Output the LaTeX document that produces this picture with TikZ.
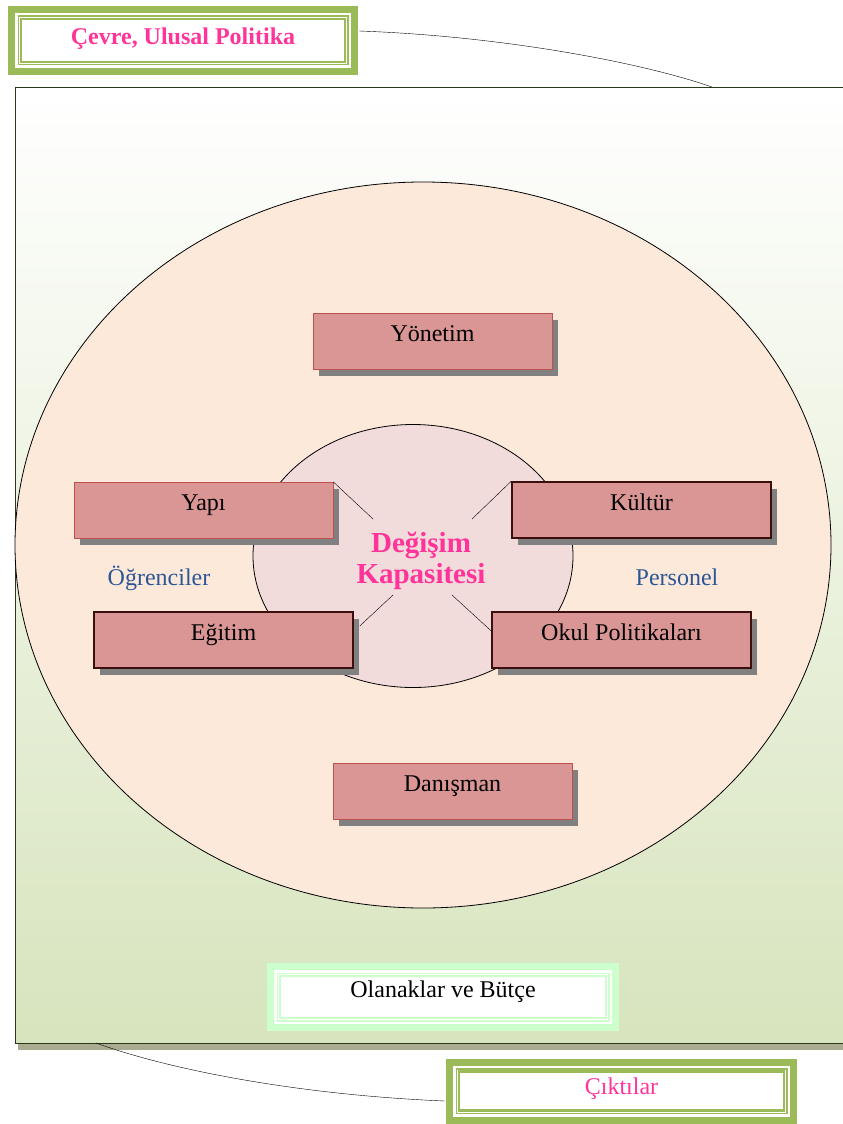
\documentclass[tikz,border=0pt]{standalone}
\usepackage{fontspec}
\setmainfont{Liberation Serif}
\usetikzlibrary{shapes.geometric,shadows}
\definecolor{frgreen}{HTML}{9BBB59}
\definecolor{lgreen}{HTML}{CCFFCC}
\definecolor{bggreen}{HTML}{D7E4BD}
\definecolor{rectedge}{HTML}{263A1A}
\definecolor{shband}{HTML}{A9AC90}
\definecolor{peach}{HTML}{FDE9D9}
\definecolor{inpink}{HTML}{F2DCDB}
\definecolor{boxred}{HTML}{D99694}
\definecolor{lightedge}{HTML}{C0504D}
\definecolor{darkedge}{HTML}{3D0E0E}
\definecolor{shgray}{HTML}{808080}
\definecolor{tpink}{HTML}{FF3399}
\definecolor{tblue}{HTML}{2B5797}
\newcommand\yazi{\fontsize{24}{28}\selectfont}
\tikzset{
  kutu/.style={rectangle, fill=boxred, draw=#1, minimum height=56pt, inner sep=0pt,
    text height=16pt, text depth=16pt,
    drop shadow={shadow xshift=6pt, shadow yshift=-7pt, fill=shgray, opacity=1}},
  kutu/.default=lightedge,
  cerceve/.style={rectangle, fill=white, draw=#1, line width=2.5pt, inner sep=0pt,
    preaction={draw=#1, line width=26pt},
    preaction={draw=white, line width=12pt},
    preaction={draw=#1, line width=7pt},
    preaction={draw=white, line width=4pt}},
}
\begin{document}
\begin{tikzpicture}[x=1pt,y=-1pt,font=\yazi]
  \useasboundingbox (0,0) rectangle (843,1124);
  % cevre
  \fill[shband] (18,1043) rectangle (850,1050);
  \node[rectangle, minimum width=835pt, minimum height=956pt, inner sep=0pt,
    top color=white, bottom color=bggreen, draw=rectedge, line width=1pt] (cev) at (432.5,565) {};
  \coordinate (t1) at (712,87);
  \coordinate (b1) at (96,1043);
  % okul
  \node[ellipse, draw, line width=0.8pt, fill=peach, minimum width=816pt, minimum height=726pt, inner sep=0pt] (okl) at (423,545) {};
  \node[ellipse, draw, line width=0.8pt, fill=inpink, minimum width=320pt, minimum height=263pt, inner sep=0pt] (ic) at (413,556) {};
  \node[font=\bfseries\fontsize{29}{31}\selectfont, text=tpink, align=center] (kap) at (421,561) {Değişim\\Kapasitesi};
  \coordinate (k1) at (373,519);
  \coordinate (k2) at (472,519);
  \coordinate (k3) at (393,595);
  \coordinate (k4) at (452,595);
  \node[kutu, minimum width=239pt] (yon) at (432.5,341) {Yönetim};
  \node[kutu, minimum width=259pt] (yapi) at (203.5,510) {Yapı};
  \node[kutu=darkedge, line width=1.5pt, minimum width=259pt] (kul) at (641.5,510) {Kültür};
  \node[kutu=darkedge, line width=1.5pt, minimum width=259pt] (egt) at (223.5,640) {Eğitim};
  \node[kutu=darkedge, line width=1.5pt, minimum width=259pt] (pol) at (621.5,640) {Okul Politikaları};
  \node[kutu, minimum width=239pt] (dan) at (452.5,791) {Danışman};
  \draw (yapi.north east) -- (k1);
  \draw (kul.north west) -- (k2);
  \draw ([shift={(6,-14)}]egt.east) -- (k3);
  \draw ([shift={(0,-9)}]pol.west) -- (k4);
  \node[text=tblue, anchor=base] (ogr) at (159,585) {Öğrenciler};
  \node[text=tblue, anchor=base] (per) at (677,585) {Personel};
  % cerceveler
  \node[cerceve=lgreen, minimum width=326pt, minimum height=42pt,
    text height=16pt, text depth=16pt] (olan) at (443,997) {Olanaklar ve Bütçe};
  \node[cerceve=frgreen, minimum width=324pt, minimum height=43pt, text=tpink,
    font=\bfseries\yazi, text height=20pt, text depth=11pt] (ctop) at (183,40.5) {Çevre, Ulusal Politika};
  \node[cerceve=frgreen, minimum width=325pt, minimum height=39pt, text=tpink,
    text height=19pt, text depth=13pt] (cik) at (621.5,1091) {Çıktılar};
  \draw ([shift={(13,-9.5)}]ctop.east) .. controls (500,36) and (640,62) .. (t1);
  \draw (b1) .. controls (170,1070) and (300,1095) .. ([shift={(-13,10)}]cik.west);
\end{tikzpicture}
\end{document}
